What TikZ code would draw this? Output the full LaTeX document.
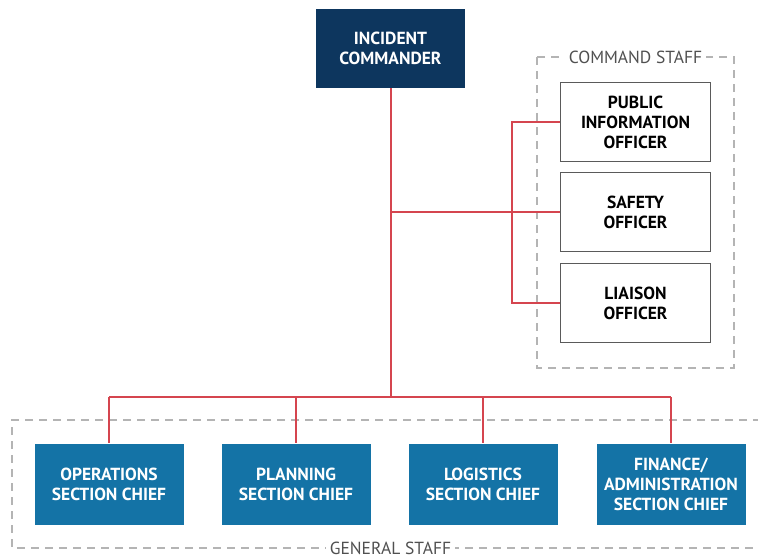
\documentclass[tikz,border=0pt]{standalone}
\usepackage{fontspec}
\newfontfamily\lab{PT Sans}
\usetikzlibrary{positioning}
\definecolor{navy}{HTML}{0D365E}
\definecolor{steel}{HTML}{1473A6}
\definecolor{redline}{HTML}{D5454F}
\definecolor{dashgray}{HTML}{B4B4B4}
\definecolor{boxgray}{HTML}{5A5A5A}
\definecolor{labgray}{HTML}{505050}
\tikzset{
  conn/.style={draw=redline, line width=2pt},
  boxfont/.style={font=\lab\bfseries\fontsize{17.5}{20}\selectfont},
  topbox/.style={boxfont, fill=navy, text=white, minimum width=149pt, minimum height=79pt, inner sep=0pt, align=center},
  staffbox/.style={boxfont, draw=boxgray, line width=1.6pt, fill=white, text=black, minimum width=150pt, minimum height=79pt, inner sep=0pt, align=center},
  genbox/.style={boxfont, fill=steel, text=white, minimum width=149pt, minimum height=81pt, inner sep=0pt, align=center},
  grp/.style={draw=dashgray, line width=1.3pt, dash pattern=on 8pt off 6pt},
  grplabel/.style={fill=white, text=labgray, inner sep=4pt, font=\lab\fontsize{17.5}{20}\selectfont},
}
\begin{document}
\begin{tikzpicture}[x=1pt, y=-1pt]
\useasboundingbox (0,0) rectangle (758,556);
\clip (0,0) rectangle (758,556);
% group frames
\draw[grp] (537,57) rectangle (734,368);
\draw[grp] (775,420) -- (12,420) -- (12,548) -- (775,548);
\node[grplabel] (cslab) at (635.5,57) {COMMAND STAFF};
\node[grplabel] (gslab) at (390.5,548) {GENERAL STAFF};
% nodes
\node[topbox] (ic) at (390.5,48.5) {INCIDENT\\COMMANDER};
\node[staffbox] (pio) at (635.5,122) {PUBLIC\\INFORMATION\\OFFICER};
\node[staffbox] (saf) at (635.5,212) {SAFETY\\OFFICER};
\node[staffbox] (lia) at (635.5,303) {LIAISON\\OFFICER};
\node[genbox] (ops) at (109,484) {OPERATIONS\\SECTION CHIEF};
\node[genbox] (pla) at (296,484) {PLANNING\\SECTION CHIEF};
\node[genbox] (log) at (483,484) {LOGISTICS\\SECTION CHIEF};
\node[genbox] (fin) at (671,484) {FINANCE/\\ADMINISTRATION\\SECTION CHIEF};
\coordinate (hub) at (390.5,397);
% connectors
\draw[conn] (ic.south) -- (hub);
\draw[conn] (ic.south |- saf.west) -- (saf.west);
\draw[conn] (pio.west) -- ++(-48,0) |- (lia.west);
\draw[conn] (ops.north |- hub) -- (fin.north |- hub);
\foreach \n in {ops,pla,log,fin} \draw[conn] (\n.north |- hub) -- (\n.north);
\end{tikzpicture}
\end{document}
